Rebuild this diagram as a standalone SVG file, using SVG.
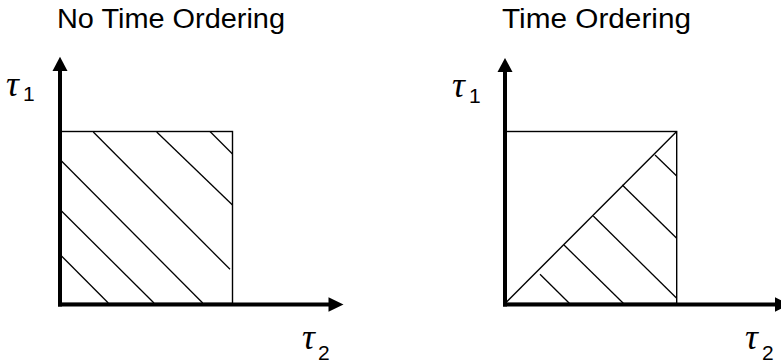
<svg xmlns="http://www.w3.org/2000/svg" width="781" height="364" viewBox="0 0 781 364">
<style>
.title{font-family:"Liberation Sans",Arial,sans-serif;font-size:27px;fill:#000}
.tau{font-family:"Liberation Serif","DejaVu Serif",serif;font-style:italic;font-size:36px;fill:#000}
.sub{font-family:"Liberation Sans",Arial,sans-serif;font-style:normal;font-size:21px;fill:#000}
.axis{stroke:#000;stroke-width:4;fill:none}
.box{stroke:#000;stroke-width:1.4;fill:none}
.hatch{stroke:#000;stroke-width:1.3;fill:none}
.head{fill:#000}
</style>
<rect width="781" height="364" fill="#fff"/>
<g id="left-panel">
  <text class="title" x="57" y="27.7" textLength="228" lengthAdjust="spacingAndGlyphs">No Time Ordering</text>
  <rect class="box" x="61" y="131.5" width="171.5" height="172"/>
  <g id="left-hatch">
    <line class="hatch" x1="210" y1="131.5" x2="232.5" y2="154"/>
    <line class="hatch" x1="156.7" y1="132" x2="232.5" y2="205"/>
    <line class="hatch" x1="93.3" y1="132" x2="230" y2="269.3"/>
    <line class="hatch" x1="61.5" y1="161" x2="202.7" y2="303"/>
    <line class="hatch" x1="61.5" y1="211" x2="154" y2="303"/>
    <line class="hatch" x1="61.5" y1="256" x2="108.3" y2="303"/>
  </g>
  <text class="tau" x="6" y="96">τ</text>
  <text class="sub" x="23" y="101">1</text>
  <text class="tau" x="302" y="349">τ</text>
  <text class="sub" x="318" y="360">2</text>
</g>
<g id="right-panel">
  <text class="title" x="502" y="28.3" textLength="189" lengthAdjust="spacingAndGlyphs">Time Ordering</text>
  <rect class="box" x="505" y="131.5" width="171.7" height="172"/>
  <line class="box" x1="505" y1="303.5" x2="676.7" y2="131.5"/>
  <g id="right-hatch">
    <line class="hatch" x1="655" y1="155" x2="676.7" y2="176"/>
    <line class="hatch" x1="622.3" y1="185" x2="676.7" y2="238.3"/>
    <line class="hatch" x1="593.3" y1="216" x2="676.7" y2="298.3"/>
    <line class="hatch" x1="564" y1="245" x2="623.3" y2="303.3"/>
    <line class="hatch" x1="540" y1="274.3" x2="569.3" y2="303.3"/>
  </g>
  <text class="tau" x="452" y="97">τ</text>
  <text class="sub" x="469" y="103">1</text>
  <text class="tau" x="745" y="349">τ</text>
  <text class="sub" x="762" y="360">2</text>
</g>
<g id="connectors">
  <line class="axis" x1="60" y1="306.5" x2="60" y2="69"/>
  <polygon class="head" points="60,56.7 52.5,71 67.5,71"/>
  <line class="axis" x1="58" y1="304.5" x2="330" y2="304.5"/>
  <polygon class="head" points="343.5,304.5 328.5,297.3 328.5,311.7"/>
  <line class="axis" x1="505" y1="306.5" x2="505" y2="70"/>
  <polygon class="head" points="505,58 497.5,72 512.5,72"/>
  <line class="axis" x1="503" y1="304.5" x2="776" y2="304.5"/>
  <polygon class="head" points="790,304.5 775,297.3 775,311.7"/>
</g>
</svg>
